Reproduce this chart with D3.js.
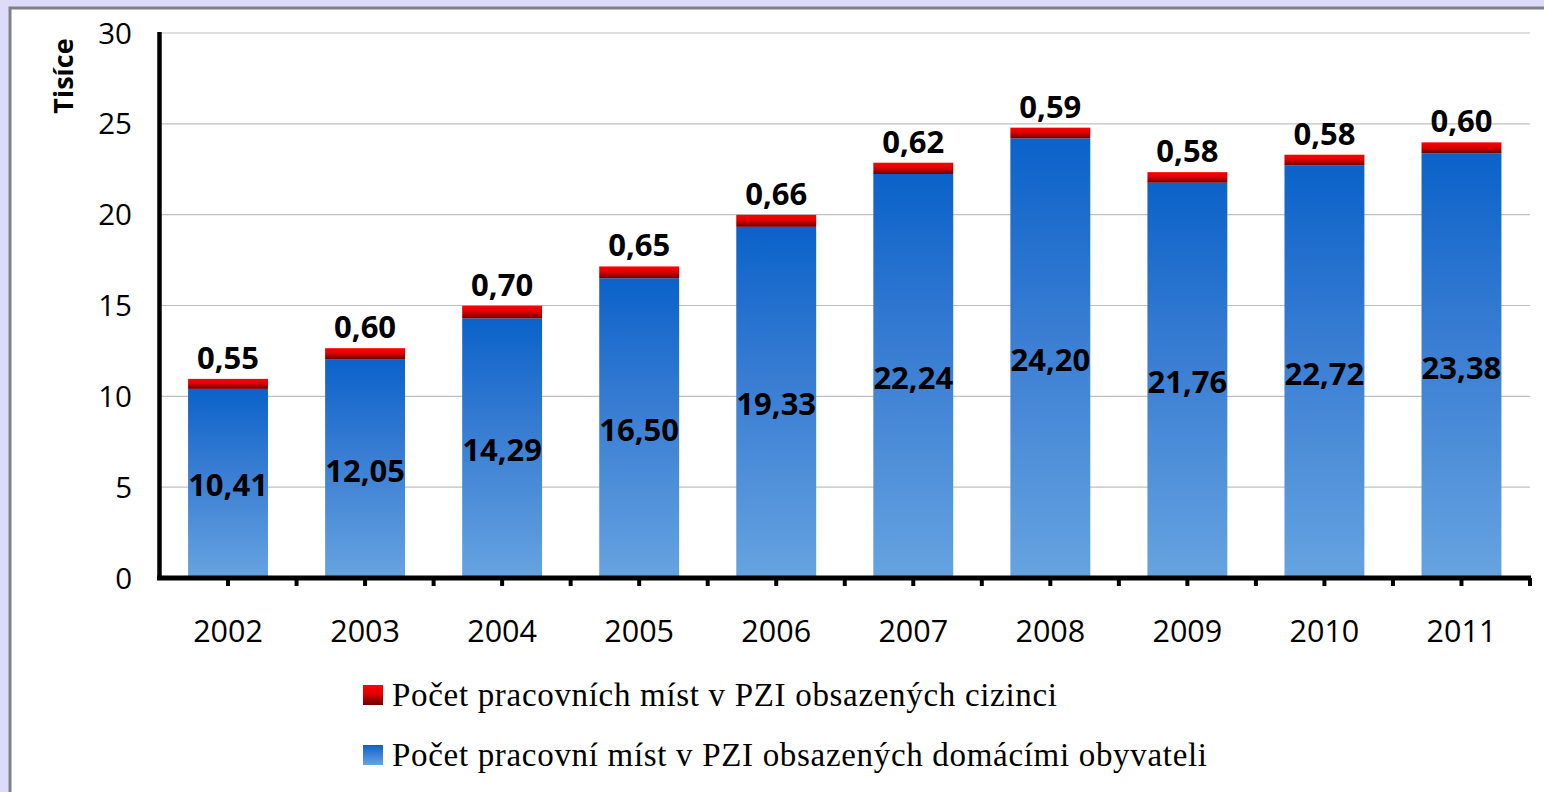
<!DOCTYPE html>
<html><head><meta charset="utf-8">
<script src="https://cdn.jsdelivr.net/npm/d3@7/dist/d3.min.js"></script>
<style>
html,body{margin:0;padding:0;background:#dcdcfa;overflow:hidden;}
svg{display:block;}
</style></head>
<body>
<script>
const years = ["2002","2003","2004","2005","2006","2007","2008","2009","2010","2011"];
const domestic = [10.41,12.05,14.29,16.50,19.33,22.24,24.20,21.76,22.72,23.38];
const foreign = [0.55,0.60,0.70,0.65,0.66,0.62,0.59,0.58,0.58,0.60];
const yTicks = [0,5,10,15,20,25,30];
const seriesNames = ["Počet pracovních míst v PZI obsazených cizinci","Počet pracovní míst v PZI obsazených domácími obyvateli"];
const yTitle = "Tisíce";

const W=1544,H=792;
const svg=d3.select("body").append("svg").attr("width",W).attr("height",H);
const defs=svg.append("defs");
const gb=defs.append("linearGradient").attr("id","gBlue").attr("x1",0).attr("y1",0).attr("x2",0).attr("y2",1);
gb.append("stop").attr("offset","0").attr("stop-color","#0b62c9");
gb.append("stop").attr("offset","0.45").attr("stop-color","#3a7ed3");
gb.append("stop").attr("offset","1").attr("stop-color","#66a3e0");
const gr=defs.append("linearGradient").attr("id","gRed").attr("x1",0).attr("y1",0).attr("x2",0).attr("y2",1);
gr.append("stop").attr("offset","0").attr("stop-color","#ff0000");
gr.append("stop").attr("offset","0.45").attr("stop-color","#e00000");
gr.append("stop").attr("offset","1").attr("stop-color","#6a0000");

// frame
svg.append("rect").attr("x",10).attr("y",8).attr("width",W).attr("height",H).attr("fill","#ffffff").attr("stroke","#808080").attr("stroke-width",3);

const fontS="'Open Sans', 'DejaVu Sans', sans-serif";
const x=d3.scaleBand().domain(years).range([159.5,1530]).paddingInner(0.417).paddingOuter(0.2085);
const y=d3.scaleLinear().domain([0,30]).range([578,33]);

// gridlines
svg.append("g").selectAll("line").data(yTicks.filter(d=>d>0)).join("line")
  .attr("x1",160).attr("x2",1530).attr("y1",d=>y(d)).attr("y2",d=>y(d))
  .attr("stroke","#c0c0c0").attr("stroke-width",1.2);

// bars
const g=svg.append("g");
g.selectAll("rect.b").data(years).join("rect").attr("class","b")
  .attr("x",d=>x(d)).attr("width",x.bandwidth())
  .attr("y",(d,i)=>y(domestic[i])).attr("height",(d,i)=>y(0)-y(domestic[i]))
  .attr("fill","url(#gBlue)");
g.selectAll("rect.r").data(years).join("rect").attr("class","r")
  .attr("x",d=>x(d)).attr("width",x.bandwidth())
  .attr("y",(d,i)=>y(domestic[i]+foreign[i])).attr("height",(d,i)=>y(domestic[i])-y(domestic[i]+foreign[i]))
  .attr("fill","url(#gRed)");

const fmt=v=>v.toFixed(2).replace(".",",");
g.selectAll("text.lr").data(years).join("text").attr("class","lr")
  .attr("x",d=>x(d)+x.bandwidth()/2).attr("y",(d,i)=>y(domestic[i]+foreign[i])-10)
  .attr("text-anchor","middle").attr("font-family",fontS).attr("font-weight","bold").attr("font-size",31)
  .text((d,i)=>fmt(foreign[i]));
g.selectAll("text.lb").data(years).join("text").attr("class","lb")
  .attr("x",d=>x(d)+x.bandwidth()/2).attr("y",(d,i)=>y(domestic[i]/2)+13)
  .attr("text-anchor","middle").attr("font-family",fontS).attr("font-weight","bold").attr("font-size",31)
  .text((d,i)=>fmt(domestic[i]));

// axes
const xa=svg.append("g");
xa.append("line").attr("x1",157).attr("x2",1531).attr("y1",578).attr("y2",578).attr("stroke","#000").attr("stroke-width",5);
const step=(1530-159.5)/years.length;
const tickXs=d3.range(0,years.length*2+1).map(k=>159.5+k*step/2);
xa.selectAll("line.t").data(tickXs.slice(1)).join("line").attr("class","t")
  .attr("x1",d=>d).attr("x2",d=>d).attr("y1",578).attr("y2",586).attr("stroke","#000").attr("stroke-width",4);
xa.selectAll("text").data(years).join("text")
  .attr("x",d=>x(d)+x.bandwidth()/2).attr("y",642)
  .attr("text-anchor","middle").attr("font-family",fontS).attr("font-size",30.5).attr("fill","#000")
  .text(d=>d);

const ya=svg.append("g");
ya.append("line").attr("x1",159.5).attr("x2",159.5).attr("y1",32).attr("y2",580).attr("stroke","#000").attr("stroke-width",4.5);
ya.selectAll("text").data(yTicks).join("text")
  .attr("x",132).attr("y",d=>y(d)+10.5).attr("text-anchor","end")
  .attr("font-family",fontS).attr("font-size",29.5).attr("fill","#000").text(d=>d);
svg.append("text").attr("transform","translate(73,76) rotate(-90)").attr("text-anchor","middle")
  .attr("font-family",fontS).attr("font-weight","bold").attr("font-size",27).text(yTitle);

// legend
const leg=svg.append("g");
const lw=[665,815];
[ "url(#gRed)","url(#gBlue)"].forEach((f,i)=>{
  const yy=685+i*60;
  leg.append("rect").attr("x",363).attr("y",yy).attr("width",20).attr("height",20).attr("fill",f);
  leg.append("text").attr("x",392).attr("y",yy+21).attr("font-family","'Liberation Serif','Times New Roman',serif")
    .attr("font-size",33).attr("fill","#000").attr("textLength",lw[i]).attr("lengthAdjust","spacing").text(seriesNames[i]);
});
</script>
</body></html>
